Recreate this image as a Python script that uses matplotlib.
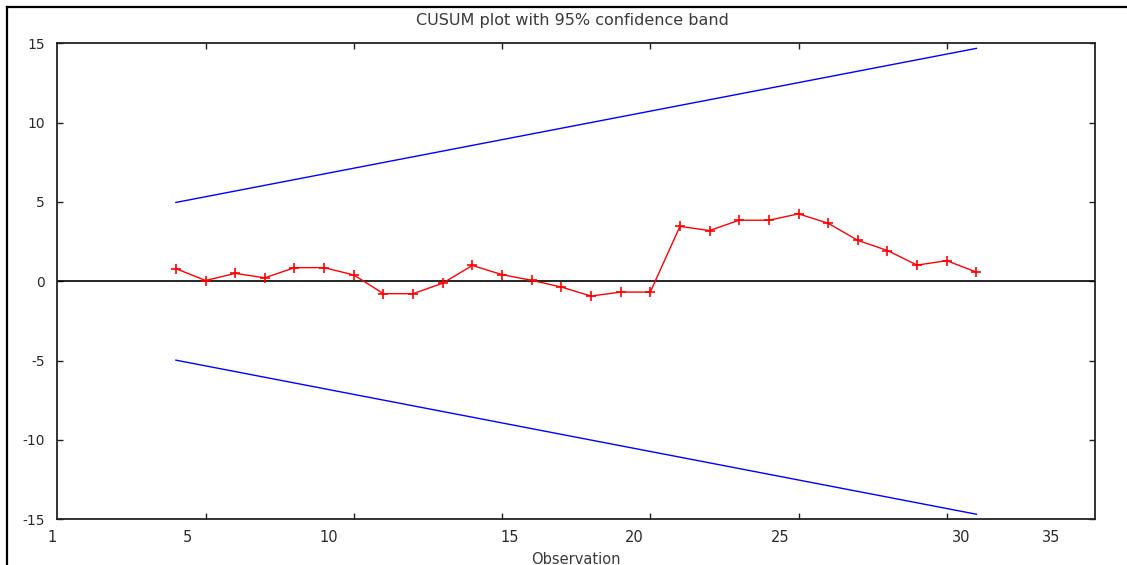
import matplotlib
matplotlib.use("Agg")
import matplotlib.pyplot as plt
from matplotlib.lines import Line2D

# ---- data ----
observations = [4, 5, 6, 7, 8, 9, 10, 11, 12, 13, 14, 15, 16, 17,
                18, 19, 20, 21, 22, 23, 24, 25, 26, 27, 28, 29, 30, 31]
cusum = [0.80, 0.05, 0.50, 0.22, 0.86, 0.86, 0.40, -0.78, -0.78, -0.12,
         1.00, 0.42, 0.06, -0.36, -0.93, -0.68, -0.68, 3.46, 3.20, 3.85,
         3.85, 4.25, 3.66, 2.58, 1.94, 1.02, 1.30, 0.58]
band_x = [4, 31]
band_upper = [4.97, 14.68]
band_lower = [-4.97, -14.68]
y_ticks = [-15, -10, -5, 0, 5, 10, 15]
x_tick_marks = [5, 10, 15, 20, 25, 30]
x_tick_labels = ['1', '5', '10', '15', '20', '25', '30', '35']
title = "CUSUM plot with 95% confidence band"
xlabel = "Observation"

# ---- layout constants (label positions as rendered in the reference) ----
x_label_pos = [-0.19, 4.39, 9.16, 15.25, 19.45, 24.37, 30.50, 33.53]
x_label_row = -15.65

W, H = 1127, 565
fig = plt.figure(figsize=(W / 100, H / 100), dpi=100)
fig.patch.set_facecolor('white')
ax = fig.add_axes([57.3 / W, 1 - 519.3 / H, (1095 - 57.3) / W, (519.3 - 43.3) / H])

ax.plot(band_x, band_upper, color='#0000ff', lw=1.0)
ax.plot(band_x, band_lower, color='#0000ff', lw=1.0)
ax.axhline(0, color='black', lw=1.2)
ax.plot(observations, cusum, color='#ff0000', lw=1.0, marker='+',
        markersize=7.5, markeredgewidth=1.2)

ax.set_xlim(0, 35)
ax.set_ylim(-15, 15)

txt_color = '#2a2a2a'
ax.set_yticks(y_ticks)
ax.set_yticklabels([str(v) for v in y_ticks], fontsize=10, color=txt_color,
                   family='DejaVu Sans')
ax.set_xticks(x_tick_marks)
ax.set_xticklabels([])
ax.tick_params(axis='both', direction='in', length=4, width=1.0,
               color='#222222', top=True, right=True)
ax.tick_params(axis='y', pad=9)

for pos, lab in zip(x_label_pos, x_tick_labels):
    ax.text(pos, x_label_row, lab, ha='center', va='top', fontsize=10.5,
            color=txt_color, family='DejaVu Sans', clip_on=False)

for s in ax.spines.values():
    s.set_linewidth(1.3)
    s.set_color('#222222')

fig.text(572 / W, 1 - 20 / H, title, ha='center', va='center',
         fontsize=11.5, color='#3a3a3a', family='DejaVu Sans')
fig.text(576 / W, 1 - 559 / H, xlabel, ha='center', va='center',
         fontsize=10.5, color='#3a3a3a', family='DejaVu Sans')

# outer frame of the screenshot
fx = 7 / W
fy = 1 - 7 / H
fig.add_artist(Line2D([fx, fx], [0, fy], transform=fig.transFigure,
                      color='black', lw=1.6))
fig.add_artist(Line2D([fx, 1], [fy, fy], transform=fig.transFigure,
                      color='black', lw=1.6))

fig.savefig('out.png', dpi=100)
